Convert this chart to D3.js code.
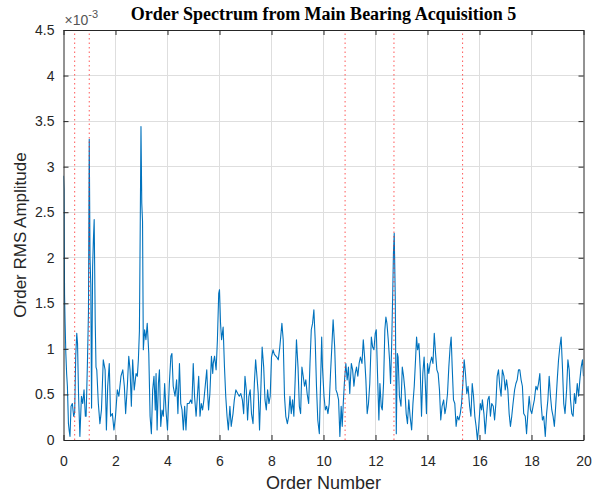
<!DOCTYPE html>
<html>
<head>
<meta charset="utf-8">
<script src="https://cdn.jsdelivr.net/npm/d3@7"></script>
<style>
  html, body { margin: 0; padding: 0; background: #ffffff; }
  svg { display: block; }
</style>
</head>
<body>
<svg id="chart" width="593" height="494"></svg>
<script>
// ---------- DATA ----------
const titleText = "Order Spectrum from Main Bearing Acquisition 5";
const xLabel = "Order Number";
const yLabel = "Order RMS Amplitude";
const yExponent = "-3";
const xTicks = [0, 2, 4, 6, 8, 10, 12, 14, 16, 18, 20];
const yTicks = [0, 0.5, 1, 1.5, 2, 2.5, 3, 3.5, 4, 4.5];
// bearing fault orders (red dotted markers)
const faultOrders = [0.43, 0.99, 10.83, 12.71, 15.35];
// spectrum: order number and RMS amplitude (x 1e-3)
const orders = [
0.00,0.02,0.04,0.06,0.09,0.12,0.15,0.19,0.22,0.25,0.29,0.34,0.39,0.43,0.47,0.51,0.54,0.58,0.63,0.69,
0.74,0.79,0.84,0.87,0.92,0.96,0.99,1.02,1.05,1.08,1.12,1.15,1.18,1.22,1.25,1.28,1.34,1.40,1.46,1.53,
1.60,1.65,1.70,1.76,1.81,1.88,1.94,2.00,2.07,2.13,2.21,2.28,2.34,2.39,2.46,2.51,2.56,2.61,2.66,2.72,
2.79,2.84,2.88,2.92,2.95,2.98,3.01,3.04,3.07,3.12,3.17,3.22,3.28,3.33,3.38,3.43,3.48,3.53,3.56,3.60,
3.65,3.69,3.74,3.79,3.84,3.89,3.94,4.00,4.07,4.13,4.17,4.22,4.29,4.35,4.40,4.46,4.51,4.56,4.61,4.66,
4.71,4.76,4.83,4.89,4.94,4.99,5.04,5.10,5.15,5.20,5.25,5.30,5.35,5.40,5.46,5.51,5.55,5.58,5.63,5.69,
5.74,5.76,5.81,5.87,5.92,5.97,6.00,6.04,6.08,6.14,6.19,6.24,6.29,6.34,6.40,6.45,6.52,6.57,6.63,6.70,
6.76,6.82,6.88,6.93,6.98,7.03,7.08,7.13,7.18,7.23,7.29,7.34,7.39,7.44,7.49,7.54,7.59,7.64,7.70,7.75,
7.80,7.85,7.90,7.95,8.00,8.06,8.11,8.20,8.26,8.32,8.40,8.45,8.50,8.55,8.61,8.66,8.71,8.76,8.81,8.86,
8.91,8.96,9.02,9.07,9.12,9.17,9.22,9.27,9.32,9.37,9.43,9.48,9.53,9.58,9.63,9.68,9.73,9.78,9.84,9.89,
9.93,9.96,10.02,10.07,10.12,10.17,10.22,10.27,10.32,10.37,10.43,10.48,10.53,10.58,10.63,10.68,10.72,10.76,10.81,10.86,
10.91,10.96,11.01,11.07,11.12,11.17,11.22,11.27,11.32,11.37,11.42,11.48,11.53,11.58,11.63,11.68,11.73,11.78,11.84,11.89,
11.94,11.99,12.03,12.08,12.13,12.17,12.22,12.26,12.31,12.36,12.40,12.44,12.49,12.54,12.58,12.62,12.66,12.69,12.72,12.76,
12.80,12.84,12.87,12.92,12.98,13.03,13.08,13.13,13.18,13.23,13.28,13.33,13.39,13.44,13.49,13.54,13.58,13.62,13.67,13.72,
13.77,13.82,13.87,13.92,13.96,14.00,14.05,14.10,14.16,14.21,14.26,14.31,14.36,14.41,14.46,14.51,14.56,14.62,14.67,14.72,
14.77,14.82,14.87,14.91,14.95,15.00,15.05,15.10,15.15,15.21,15.26,15.31,15.36,15.41,15.46,15.51,15.56,15.62,15.67,15.72,
15.77,15.82,15.87,15.92,15.97,16.03,16.08,16.11,16.17,16.22,16.27,16.32,16.37,16.42,16.47,16.53,16.58,16.63,16.68,16.73,
16.78,16.83,16.88,16.94,16.99,17.04,17.09,17.14,17.19,17.24,17.29,17.35,17.40,17.45,17.50,17.55,17.60,17.65,17.70,17.76,
17.81,17.86,17.91,17.96,18.01,18.06,18.11,18.17,18.22,18.27,18.32,18.37,18.42,18.47,18.53,18.58,18.63,18.68,18.73,18.78,
18.83,18.88,18.93,18.99,19.04,19.09,19.14,19.19,19.24,19.29,19.35,19.40,19.45,19.50,19.55,19.60,19.65,19.70,19.76,19.81,
19.86,19.91,19.96,20.00
];
const amplitude = [
2.90,2.75,1.60,1.30,0.95,0.73,0.59,0.18,0.10,0.04,0.37,0.40,0.26,0.30,0.92,1.17,1.06,0.48,0.04,0.48,
0.40,0.55,0.26,0.26,0.84,1.40,3.30,2.00,1.70,0.35,1.90,2.20,2.42,1.30,0.80,0.77,0.40,0.18,0.33,0.88,
0.77,0.11,0.59,0.84,0.26,0.29,0.11,0.26,0.55,0.48,0.70,0.77,0.59,0.29,0.62,0.92,0.77,0.37,0.88,0.55,
0.73,0.70,0.88,1.20,2.30,3.44,2.60,2.40,0.99,1.21,1.10,1.28,0.95,0.26,0.07,0.55,0.70,0.33,0.73,0.11,
0.62,0.77,0.15,0.33,0.26,0.62,0.33,0.11,0.62,0.92,0.95,0.59,0.48,0.66,0.29,0.84,0.40,0.33,0.11,0.37,
0.11,0.40,0.40,0.44,0.40,0.84,0.48,0.26,0.48,0.70,0.26,0.40,0.33,0.44,0.62,0.77,0.48,0.33,0.51,0.92,
0.73,0.84,0.92,0.77,1.10,1.61,1.65,1.28,1.10,1.24,0.81,0.48,0.26,0.11,0.37,0.15,0.29,0.44,0.55,0.51,
0.48,0.51,0.44,0.29,0.70,0.55,0.22,0.48,0.55,0.29,0.18,0.62,0.88,0.70,0.51,0.11,0.55,1.02,0.80,0.44,
0.33,0.55,0.40,0.48,0.91,0.99,0.94,0.91,0.88,1.02,1.28,1.10,0.48,0.26,0.18,0.26,0.48,0.29,0.44,0.26,
0.66,1.10,0.80,0.37,0.29,0.80,0.70,0.59,0.66,0.51,0.40,0.84,1.21,1.28,1.43,1.10,0.59,0.22,0.07,0.66,
1.13,0.80,0.48,0.33,0.37,0.29,0.40,0.73,1.02,1.32,1.02,0.55,0.51,0.44,0.04,0.37,0.15,0.40,0.66,0.84,
0.66,0.80,0.51,0.84,0.77,0.59,0.73,0.80,0.70,0.84,0.91,0.84,1.10,0.91,0.66,0.29,0.40,0.62,1.13,1.02,
0.99,1.17,1.21,0.70,0.22,0.62,0.37,0.33,0.62,1.21,1.35,1.28,1.10,0.88,0.62,1.02,1.57,2.05,2.27,1.57,
0.07,0.95,0.91,0.48,0.37,0.80,0.70,0.55,0.29,0.18,0.44,0.26,0.11,0.40,0.59,0.88,1.13,0.99,1.06,0.77,
0.26,0.73,0.91,0.59,0.29,0.84,0.73,0.84,0.91,0.84,1.17,0.95,0.77,0.73,0.55,0.22,0.37,0.44,0.29,0.37,
0.51,0.80,1.02,1.13,0.80,0.44,0.40,0.15,0.26,0.22,0.29,0.40,0.62,0.88,0.73,0.51,0.59,0.37,0.26,0.62,
0.48,0.26,0.15,0.00,0.15,0.40,0.33,0.44,0.29,0.07,0.26,0.44,0.48,0.26,0.40,0.37,0.22,0.40,0.70,0.77,
0.59,0.48,0.77,0.70,0.55,0.66,0.55,0.29,0.15,0.26,0.40,0.55,0.62,0.66,0.77,0.77,0.66,0.59,0.29,0.26,
0.07,0.29,0.48,0.33,0.29,0.37,0.44,0.59,0.55,0.62,0.73,0.40,0.22,0.26,0.04,0.29,0.44,0.70,0.48,0.33,
0.26,0.15,0.37,0.66,0.88,1.02,1.13,0.80,0.40,0.29,0.55,0.88,0.77,0.44,0.29,0.26,0.51,0.40,0.62,0.48,
0.66,0.80,0.88,0.70
];

// ---------- LAYOUT ----------
const margin = { left: 63.5, top: 30, right: 593 - 583.5, bottom: 494 - 440 };
const W = 593, H = 494;
const plotW = W - margin.left - margin.right;
const plotH = H - margin.top - margin.bottom;
const axisColor = "#262626";
const lineColor = "#0072BD";
const sansFont = "'Liberation Sans', Arial, Helvetica, sans-serif";

const svg = d3.select("#chart");
svg.append("rect").attr("width", W).attr("height", H).attr("fill", "#ffffff");

const x = d3.scaleLinear().domain([0, 20]).range([margin.left, margin.left + plotW]);
const y = d3.scaleLinear().domain([0, 4.5]).range([margin.top + plotH, margin.top]);

const g = svg.append("g");

// grid
g.append("g").selectAll("line").data(xTicks.slice(1, -1)).join("line")
  .attr("x1", d => x(d)).attr("x2", d => x(d))
  .attr("y1", y(0)).attr("y2", y(4.5))
  .attr("stroke", "#dedede").attr("stroke-width", 1).attr("shape-rendering", "crispEdges");
g.append("g").selectAll("line").data(yTicks.slice(1, -1)).join("line")
  .attr("y1", d => y(d)).attr("y2", d => y(d))
  .attr("x1", x(0)).attr("x2", x(20))
  .attr("stroke", "#dedede").attr("stroke-width", 1).attr("shape-rendering", "crispEdges");

// clip
svg.append("clipPath").attr("id", "clip").append("rect")
  .attr("x", x(0)).attr("y", y(4.5)).attr("width", plotW).attr("height", plotH);

// spectrum line
const pts = orders.map((o, i) => [o, amplitude[i]]);
const line = d3.line().x(d => x(d[0])).y(d => y(d[1]));
g.append("path").datum(pts)
  .attr("clip-path", "url(#clip)")
  .attr("d", line)
  .attr("fill", "none")
  .attr("stroke", lineColor)
  .attr("stroke-width", 1.1)
  .attr("stroke-linejoin", "round");

// fault order markers
g.append("g").selectAll("line").data(faultOrders).join("line")
  .attr("x1", d => x(d)).attr("x2", d => x(d))
  .attr("y1", y(0)).attr("y2", y(4.5))
  .attr("stroke", "#ff2020").attr("stroke-opacity", 0.75)
  .attr("stroke-width", 1).attr("stroke-dasharray", "1.5,3");

// axes (box with inward ticks)
const tickLen = 5;
const xAxisB = d3.axisBottom(x).tickValues(xTicks).tickSizeInner(-tickLen).tickSizeOuter(0).tickPadding(16).tickFormat(d3.format("d"));
const xAxisT = d3.axisTop(x).tickValues(xTicks).tickSizeInner(-tickLen).tickSizeOuter(0).tickFormat("");
const yAxisL = d3.axisLeft(y).tickValues(yTicks).tickSizeInner(-tickLen).tickSizeOuter(0).tickPadding(9).tickFormat(d => d3.format("")(d));
const yAxisR = d3.axisRight(y).tickValues(yTicks).tickSizeInner(-tickLen).tickSizeOuter(0).tickFormat("");

function styleAxis(sel) {
  sel.select(".domain").attr("stroke", axisColor).attr("stroke-width", 1);
  sel.selectAll(".tick line").attr("stroke", axisColor).attr("stroke-width", 1);
  sel.selectAll(".tick text").attr("fill", axisColor).attr("font-family", sansFont).attr("font-size", 14);
}
g.append("g").attr("transform", `translate(0,${y(0)})`).call(xAxisB).call(styleAxis);
g.append("g").attr("transform", `translate(0,${y(4.5)})`).call(xAxisT).call(styleAxis);
g.append("g").attr("transform", `translate(${x(0)},0)`).call(yAxisL).call(styleAxis);
g.append("g").attr("transform", `translate(${x(20)},0)`).call(yAxisR).call(styleAxis);

// exponent label
const expT = svg.append("text")
  .attr("x", x(0) + 1).attr("y", 25)
  .attr("font-family", sansFont).attr("font-size", 14).attr("fill", "#555555");
expT.append("tspan").text("\u00d710");
expT.append("tspan").attr("dy", -7).attr("font-size", 11).text(yExponent);

// title
svg.append("text")
  .attr("x", (x(0) + x(20)) / 2).attr("y", 20)
  .attr("text-anchor", "middle")
  .attr("font-family", "'Liberation Serif', 'Times New Roman', serif")
  .attr("font-weight", "bold").attr("font-size", 18).attr("fill", "#000000")
  .text(titleText);

// axis labels
svg.append("text")
  .attr("x", (x(0) + x(20)) / 2).attr("y", 489)
  .attr("text-anchor", "middle")
  .attr("font-family", sansFont).attr("font-size", 18).attr("fill", axisColor)
  .text(xLabel);
svg.append("text")
  .attr("transform", `translate(26,${(y(0) + y(4.5)) / 2}) rotate(-90)`)
  .attr("text-anchor", "middle")
  .attr("font-family", sansFont).attr("font-size", 17).attr("fill", axisColor)
  .text(yLabel);
</script>
</body>
</html>
